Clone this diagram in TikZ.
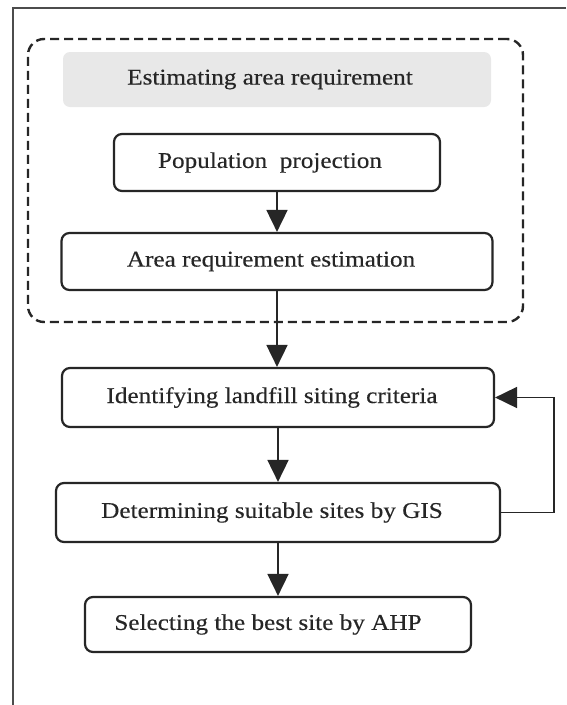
\documentclass[tikz,border=0pt]{standalone}
\usepackage{fontspec}
\setmainfont{Liberation Serif}[FakeStretch=1.12, FakeBold=0.3]
\usetikzlibrary{arrows.meta}
\definecolor{ink}{HTML}{262626}
\definecolor{shade}{HTML}{E8E8E8}
\begin{document}
\begin{tikzpicture}[x=1pt,y=-1pt,
  every node/.style={font=\fontsize{22.5}{27}\selectfont, text=ink, inner sep=0pt},
  stepbox/.style={draw=ink, line width=2.2pt, rounded corners=8pt, minimum height=57pt,
    execute at end node=\hspace*{12pt}},
  headbox/.style={fill=shade, rounded corners=7pt, minimum width=428pt, minimum height=55pt,
    execute at end node=\hspace*{14pt}},
  groupbox/.style={draw=ink, line width=2.4pt, dash pattern=on 9pt off 5pt, rounded corners=16pt},
  flow/.style={draw=ink, line width=1.8pt, -{Triangle[length=22pt,width=21pt]}}
]
\useasboundingbox (0,0) rectangle (566,705);
\fill[white] (0,0) rectangle (566,705);
\draw[line width=2pt, draw=black!70] (566,8) -- (13,8) -- (13,705);

\node[groupbox, minimum width=495pt, minimum height=283pt] (grp) at (275.5,180.5) {};
\node[headbox] (head) at (277,79.5) {Estimating area requirement};
\node[stepbox, minimum width=326pt, execute at end node=\hspace*{2pt}] (pop) at (277,162.5) {Population\ \ projection};
\node[stepbox, minimum width=431pt] (area) at (277,261.5) {Area requirement estimation};
\node[stepbox, minimum width=432pt, minimum height=59pt] (ident) at (278,397.5) {Identifying landfill siting criteria};
\node[stepbox, minimum width=444pt, minimum height=59pt] (det) at (278,512.5) {Determining suitable sites by GIS};
\node[stepbox, minimum width=386pt, minimum height=55pt, execute at end node=\hspace*{8pt}] (sel) at (278,624.5) {Selecting the best site by AHP};

\draw[flow] (pop.south) -- (pop.south |- area.north);
\draw[flow] (area.south) -- (area.south |- ident.north);
\draw[flow] (ident.south) -- (ident.south |- det.north);
\draw[flow] (det.south) -- (det.south |- sel.north);
\draw[flow] (det.east) -- ++(53,0) |- (ident.east);
\end{tikzpicture}
\end{document}
